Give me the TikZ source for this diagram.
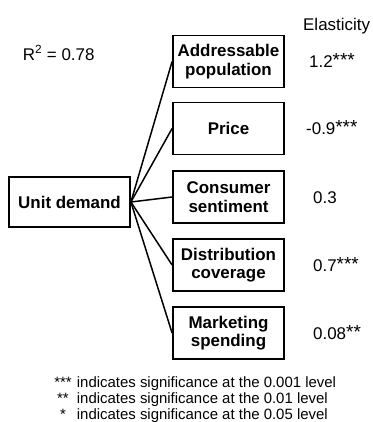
\documentclass[tikz,border=0pt]{standalone}
\usepackage{fontspec}
\setmainfont{Liberation Sans}
\newcommand{\stars}[1]{\raisebox{1bp}{\fontsize{19}{20}\selectfont #1}}
\begin{document}
\begin{tikzpicture}[x=1bp,y=-1bp,
  box/.style={draw, line width=1.8bp, minimum width=111bp, minimum height=52bp,
    inner sep=0pt, align=center, font=\fontsize{17}{18.5}\selectfont\bfseries},
  conn/.style={line width=1.5bp},
  val/.style={anchor=base west, inner sep=0pt, font=\fontsize{17}{20}\selectfont},
  fnstar/.style={anchor=base, inner sep=0pt, font=\fontsize{15}{16}\selectfont},
  fn/.style={anchor=base west, inner sep=0pt, font=\fontsize{15}{16}\selectfont}]
\useasboundingbox (0,0) rectangle (373,422);
\node[box, minimum width=121bp, minimum height=50bp] (ud) at (69.5,202) {Unit demand};
\node[box] (a) at (228.5,61.5) {Addressable\\population};
\node[box] (p) at (228.5,128.5) {Price};
\node[box] (c) at (228.5,197) {Consumer\\sentiment};
\node[box] (d) at (228.5,265) {Distribution\\coverage};
\node[box] (m) at (228.5,333) {Marketing\\spending};
\foreach \n in {a,p,c,d,m} \draw[conn] (ud.east) -- (\n.west);
\node[val] (el) at (303,30.7) {Elasticity};
\node[val] (r2) at (22.7,60) {R\textsuperscript{2} = 0.78};
\node[val] (e1) at (309,67.6) {1.2\stars{***}};
\node[val] (e2) at (306,134.6) {-0.9\stars{***}};
\node[val] (e3) at (313,203) {0.3};
\node[val] (e4) at (313,271) {0.7\stars{***}};
\node[val] (e5) at (313,339) {0.08\stars{**}};
\node[fnstar] (s1) at (63,387) {***};
\node[fnstar] (s2) at (63,403) {**};
\node[fnstar] (s3) at (63,419) {*};
\node[fn] (f1) at (76.7,387) {indicates significance at the 0.001 level};
\node[fn] (f2) at (76.7,403) {indicates significance at the 0.01 level};
\node[fn] (f3) at (76.7,419) {indicates significance at the 0.05 level};
\end{tikzpicture}
\end{document}
